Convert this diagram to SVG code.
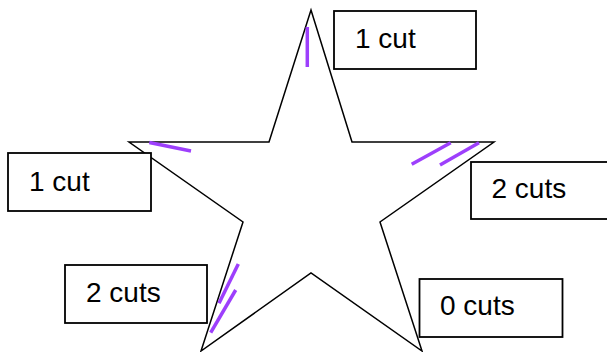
<svg xmlns="http://www.w3.org/2000/svg" width="607" height="352" viewBox="0 0 607 352">
<style>
.box{fill:#fff;stroke:#000;stroke-width:1.8}
.lbl{font-family:"Liberation Sans",Arial,sans-serif;font-size:28px;fill:#000}
.cut{stroke:#9d3ffc;stroke-width:3.5;stroke-linecap:butt}
</style>
<rect width="607" height="352" fill="#fff"/>
<g id="star">
<polygon points="311,10 352,142 494,142 380,222 422,351 311,273 201,351 243,222 129,142 269,142" fill="none" stroke="#000" stroke-width="1.5"/>
</g>
<g id="connectors">
<line class="cut" x1="307.3" y1="27" x2="307.3" y2="67"/>
<line class="cut" x1="149.3" y1="142.5" x2="191" y2="151"/>
<line class="cut" x1="411.7" y1="164.3" x2="450.7" y2="142.7"/>
<line class="cut" x1="440" y1="165" x2="479" y2="142.7"/>
<line class="cut" x1="238.3" y1="264" x2="219" y2="303.3"/>
<line class="cut" x1="235.7" y1="290" x2="210.7" y2="332.7"/>
</g>
<g id="label-top">
<rect class="box" x="334" y="11" width="142" height="58"/>
<text class="lbl" x="355" y="48">1 cut</text>
</g>
<g id="label-left">
<rect class="box" x="8" y="153" width="143" height="58"/>
<text class="lbl" x="29" y="191">1 cut</text>
</g>
<g id="label-right">
<rect class="box" x="471" y="162" width="145" height="57"/>
<text class="lbl" x="491.5" y="198">2 cuts</text>
</g>
<g id="label-bottom-left">
<rect class="box" x="65" y="265" width="142" height="58"/>
<text class="lbl" x="86" y="302">2 cuts</text>
</g>
<g id="label-bottom-right">
<rect class="box" x="419.5" y="279" width="143" height="58"/>
<text class="lbl" x="440" y="315">0 cuts</text>
</g>
</svg>
